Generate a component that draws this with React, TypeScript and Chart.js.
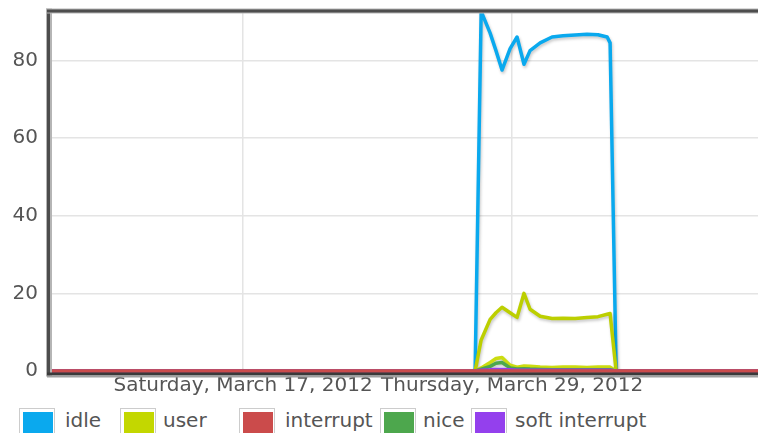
import React, { useEffect, useRef } from "react";
import { Chart, registerables } from "chart.js";

Chart.register(...registerables);

// Days relative to Saturday, March 17, 2012
const timeDays = [-8.61, 10.35, 10.62, 11.02, 11.28, 11.55, 11.91, 12.22, 12.53, 12.8, 13.25, 13.78, 14.27, 14.81, 15.34, 15.83, 16.24, 16.37, 16.64, 24.84];
const idleValues = [0, 0, 92.6, 87, 82.5, 77.5, 83, 86, 79, 82.5, 84.5, 86, 86.3, 86.5, 86.7, 86.6, 86, 84.5, 0, 0];
const userValues = [0, 0, 8, 13.3, 15, 16.4, 15, 13.8, 20, 15.9, 14.1, 13.5, 13.6, 13.5, 13.8, 14, 14.6, 14.8, 0, 0];
const systemValues = [0, 0, 0.8, 2.2, 3.2, 3.5, 1.5, 1, 1.3, 1.2, 1, 0.9, 1, 1, 0.9, 1, 1, 1, 0, 0];
const niceValues = [0, 0, 0.5, 1.2, 2, 2.2, 0.8, 0.5, 0.6, 0.5, 0.4, 0.3, 0.3, 0.3, 0.3, 0.3, 0.3, 0.3, 0, 0];
const softIrqValues = [0, 0, 0.2, 0.3, 0.4, 0.4, 0.3, 0.2, 0.2, 0.2, 0.2, 0.2, 0.2, 0.2, 0.2, 0.2, 0.2, 0.2, 0, 0];
const interruptValues = [0, 0, 0, 0, 0, 0, 0, 0, 0, 0, 0, 0, 0, 0, 0, 0, 0, 0, 0, 0];

const xTickDays = [0, 12];
const xTickLabels = ["Saturday, March 17, 2012", "Thursday, March 29, 2012"];
const yTicks = [0, 20, 40, 60, 80];

const legendLabels = ["idle", "user", "interrupt", "nice", "soft interrupt"];
const legendColors = ["#0aa9ee", "#c3d700", "#cb4b4b", "#4da74d", "#9440ed"];

const X_MIN = -8.61;
const X_MAX = 24.84;
const Y_MAX = 92.7;

const FONT = "'DejaVu Sans', Verdana, sans-serif";
const TEXT = "#555";

const legendBoxX = [19, 120, 239, 380, 471];
const legendTextX = [65, 163, 285, 423, 515];

const pts = (vals: number[]) => vals.map((v, i) => ({ x: timeDays[i], y: v }));

const shadowPlugin = {
  id: "lineShadow",
  beforeDatasetDraw(chart: any) {
    const ctx = chart.ctx;
    ctx.save();
    ctx.shadowColor = "rgba(0,0,0,0.22)";
    ctx.shadowBlur = 3;
    ctx.shadowOffsetX = 1;
    ctx.shadowOffsetY = 2;
  },
  afterDatasetDraw(chart: any) {
    chart.ctx.restore();
  },
};

const framePlugin = {
  id: "frame",
  afterDatasetsDraw(chart: any) {
    const { ctx, chartArea: a } = chart;
    ctx.save();
    // left
    ctx.fillStyle = "#b5b5b5";
    ctx.fillRect(a.left - 4, a.top - 2.5, 6, a.bottom - a.top + 8);
    ctx.fillStyle = "#4d4d4d";
    ctx.fillRect(a.left - 3, a.top - 1.5, 3, a.bottom - a.top + 6);
    // top
    ctx.fillStyle = "#b5b5b5";
    ctx.fillRect(a.left - 4, a.top - 2.5, a.right - a.left + 8, 5);
    ctx.fillStyle = "#4d4d4d";
    ctx.fillRect(a.left - 3, a.top - 1.5, a.right - a.left + 6, 3);
    // bottom
    ctx.fillStyle = "#3a3a3a";
    ctx.fillRect(a.left - 3, a.bottom + 1.5, a.right - a.left + 6, 3);
    ctx.fillStyle = "#a0a0a0";
    ctx.fillRect(a.left - 3, a.bottom + 4.5, a.right - a.left + 6, 2);
    ctx.restore();
  },
};

export default function App() {
  const ref = useRef<HTMLCanvasElement | null>(null);

  useEffect(() => {
    if (!ref.current) return;
    const line = (label: string, data: number[], color: string) => ({
      label,
      data: pts(data),
      borderColor: color,
      backgroundColor: color,
      borderWidth: 3.5,
      pointRadius: 0,
      tension: 0,
      fill: false,
      clip: 2,
      borderJoinStyle: "round" as const,
      borderCapStyle: "round" as const,
    });
    // Chart.js paints the last dataset first, so this list runs top-most first.
    const chart = new Chart(ref.current, {
      type: "line",
      data: {
        datasets: [
          line("interrupt", interruptValues, legendColors[2]),
          line("soft interrupt", softIrqValues, legendColors[4]),
          line("nice", niceValues, legendColors[3]),
          line("system", systemValues, "#cbdc10"),
          line("user", userValues, "#bccf00"),
          line("idle", idleValues, legendColors[0]),
        ],
      },
      options: {
        animation: false,
        responsive: false,
        layout: { padding: { top: 11, left: 0, right: 0, bottom: 0 } },
        plugins: { legend: { display: false }, tooltip: { enabled: false } },
        scales: {
          x: {
            type: "linear",
            min: X_MIN,
            max: X_MAX,
            afterBuildTicks: (s: any) => {
              s.ticks = xTickDays.map((v) => ({ value: v }));
            },
            afterFit: (s: any) => {
              s.height = 29;
              s.paddingLeft = 0;
              s.paddingRight = 0;
            },
            ticks: {
              autoSkip: false,
              maxRotation: 0,
              padding: 3,
              color: TEXT,
              font: { family: FONT, size: 20 },
              callback: (v: any) => {
                const i = xTickDays.indexOf(Number(v));
                return i >= 0 ? xTickLabels[i] : "";
              },
            },
            grid: { color: "#e4e4e4", lineWidth: 1.5, drawTicks: false },
            border: { display: false },
          },
          y: {
            type: "linear",
            min: 0,
            max: Y_MAX,
            afterBuildTicks: (s: any) => {
              s.ticks = yTicks.map((v) => ({ value: v }));
            },
            afterFit: (s: any) => {
              s.width = 50;
              s.paddingTop = 0;
              s.paddingBottom = 0;
            },
            ticks: {
              padding: 12,
              color: TEXT,
              font: { family: FONT, size: 20 },
            },
            grid: { color: "#e4e4e4", lineWidth: 1.5, drawTicks: false },
            border: { display: false },
          },
        },
      },
      plugins: [shadowPlugin, framePlugin],
    });
    return () => chart.destroy();
  }, []);

  return (
    <div
      style={{
        position: "fixed",
        left: 0,
        top: 0,
        width: 758,
        height: 433,
        overflow: "hidden",
        background: "#fff",
        fontFamily: FONT,
      }}
    >
      <canvas ref={ref} width={800} height={400} style={{ position: "absolute", left: 0, top: 0 }} />
      {legendLabels.map((lab, i) => (
        <React.Fragment key={lab}>
          <div
            style={{
              position: "absolute",
              left: legendBoxX[i],
              top: 408,
              width: 36,
              height: 30,
              border: "1px solid #ccc",
              boxSizing: "border-box",
              padding: 3,
            }}
          >
            <div style={{ width: 30, height: 24, background: legendColors[i] }} />
          </div>
          <div
            style={{
              position: "absolute",
              left: legendTextX[i],
              top: 407,
              fontSize: 20,
              lineHeight: "26px",
              color: TEXT,
              whiteSpace: "nowrap",
            }}
          >
            {lab}
          </div>
        </React.Fragment>
      ))}
    </div>
  );
}
